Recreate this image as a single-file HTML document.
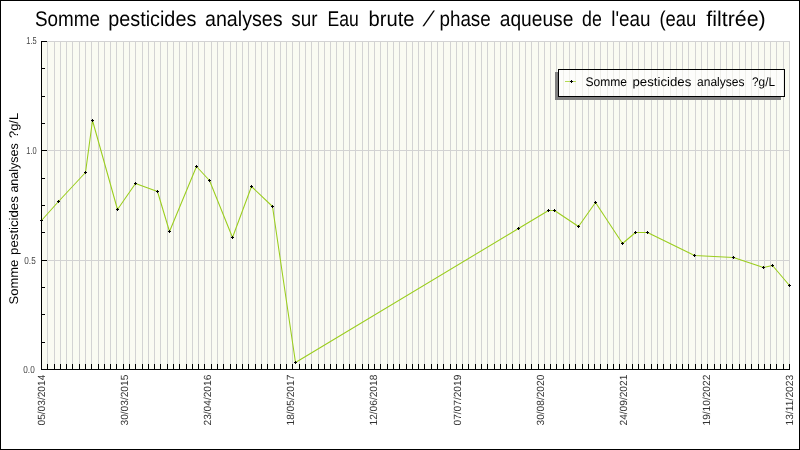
<!DOCTYPE html>
<html lang="fr"><head><meta charset="utf-8"><title>Somme pesticides analyses</title>
<style>html,body{margin:0;padding:0;background:#fff;overflow:hidden}svg{display:block}text{font-family:"Liberation Sans","DejaVu Sans",sans-serif;text-rendering:geometricPrecision}</style></head><body>
<svg width="800" height="450" viewBox="0 0 800 450">
<rect x="0" y="0" width="800" height="450" fill="#fff"/>
<g shape-rendering="crispEdges">
<rect x="0.5" y="0.5" width="799" height="449" fill="none" stroke="#000" stroke-width="1"/>
<rect x="41" y="41" width="749" height="329" fill="#fafbf2"/>
<path d="M47.5 41V370M54.5 41V370M60.5 41V370M66.5 41V370M72.5 41V370M79.5 41V370M85.5 41V370M91.5 41V370M98.5 41V370M104.5 41V370M110.5 41V370M116.5 41V370M123.5 41V370M129.5 41V370M135.5 41V370M142.5 41V370M148.5 41V370M154.5 41V370M160.5 41V370M167.5 41V370M173.5 41V370M179.5 41V370M186.5 41V370M192.5 41V370M198.5 41V370M204.5 41V370M211.5 41V370M217.5 41V370M223.5 41V370M230.5 41V370M236.5 41V370M242.5 41V370M248.5 41V370M255.5 41V370M261.5 41V370M267.5 41V370M274.5 41V370M280.5 41V370M286.5 41V370M292.5 41V370M299.5 41V370M305.5 41V370M311.5 41V370M318.5 41V370M324.5 41V370M330.5 41V370M336.5 41V370M343.5 41V370M349.5 41V370M355.5 41V370M362.5 41V370M368.5 41V370M374.5 41V370M380.5 41V370M387.5 41V370M393.5 41V370M399.5 41V370M406.5 41V370M412.5 41V370M418.5 41V370M424.5 41V370M431.5 41V370M437.5 41V370M443.5 41V370M450.5 41V370M456.5 41V370M462.5 41V370M468.5 41V370M475.5 41V370M481.5 41V370M487.5 41V370M494.5 41V370M500.5 41V370M506.5 41V370M512.5 41V370M519.5 41V370M525.5 41V370M531.5 41V370M538.5 41V370M544.5 41V370M550.5 41V370M556.5 41V370M563.5 41V370M569.5 41V370M575.5 41V370M582.5 41V370M588.5 41V370M594.5 41V370M600.5 41V370M607.5 41V370M613.5 41V370M619.5 41V370M626.5 41V370M632.5 41V370M638.5 41V370M644.5 41V370M651.5 41V370M657.5 41V370M663.5 41V370M670.5 41V370M676.5 41V370M682.5 41V370M688.5 41V370M695.5 41V370M701.5 41V370M707.5 41V370M714.5 41V370M720.5 41V370M726.5 41V370M732.5 41V370M739.5 41V370M745.5 41V370M751.5 41V370M758.5 41V370M764.5 41V370M770.5 41V370M776.5 41V370M783.5 41V370M789.5 41V370" stroke="#d3d3d3" stroke-width="1" fill="none"/>
<path d="M41 41.5H790M41 150.5H790M41 260.5H790" stroke="#d3d3d3" stroke-width="1" fill="none"/>
<path d="M41.5 41V370M41 369.5H790" stroke="#000" stroke-width="1" fill="none"/>
<path d="M41 41.5H47M41 150.5H47M41 260.5H47M41 369.5H47M41 68.5H45M41 96.5H45M41 123.5H45M41 178.5H45M41 205.5H45M41 232.5H45M41 287.5H45M41 314.5H45M41 342.5H45" stroke="#000" stroke-width="1" fill="none"/>
<path d="M41.5 364V370M47.5 364V370M54.5 364V370M60.5 364V370M66.5 364V370M72.5 364V370M79.5 364V370M85.5 364V370M91.5 364V370M98.5 364V370M104.5 364V370M110.5 364V370M116.5 364V370M123.5 364V370M129.5 364V370M135.5 364V370M142.5 364V370M148.5 364V370M154.5 364V370M160.5 364V370M167.5 364V370M173.5 364V370M179.5 364V370M186.5 364V370M192.5 364V370M198.5 364V370M204.5 364V370M211.5 364V370M217.5 364V370M223.5 364V370M230.5 364V370M236.5 364V370M242.5 364V370M248.5 364V370M255.5 364V370M261.5 364V370M267.5 364V370M274.5 364V370M280.5 364V370M286.5 364V370M292.5 364V370M299.5 364V370M305.5 364V370M311.5 364V370M318.5 364V370M324.5 364V370M330.5 364V370M336.5 364V370M343.5 364V370M349.5 364V370M355.5 364V370M362.5 364V370M368.5 364V370M374.5 364V370M380.5 364V370M387.5 364V370M393.5 364V370M399.5 364V370M406.5 364V370M412.5 364V370M418.5 364V370M424.5 364V370M431.5 364V370M437.5 364V370M443.5 364V370M450.5 364V370M456.5 364V370M462.5 364V370M468.5 364V370M475.5 364V370M481.5 364V370M487.5 364V370M494.5 364V370M500.5 364V370M506.5 364V370M512.5 364V370M519.5 364V370M525.5 364V370M531.5 364V370M538.5 364V370M544.5 364V370M550.5 364V370M556.5 364V370M563.5 364V370M569.5 364V370M575.5 364V370M582.5 364V370M588.5 364V370M594.5 364V370M600.5 364V370M607.5 364V370M613.5 364V370M619.5 364V370M626.5 364V370M632.5 364V370M638.5 364V370M644.5 364V370M651.5 364V370M657.5 364V370M663.5 364V370M670.5 364V370M676.5 364V370M682.5 364V370M688.5 364V370M695.5 364V370M701.5 364V370M707.5 364V370M714.5 364V370M720.5 364V370M726.5 364V370M732.5 364V370M739.5 364V370M745.5 364V370M751.5 364V370M758.5 364V370M764.5 364V370M770.5 364V370M776.5 364V370M783.5 364V370M789.5 364V370" stroke="#000" stroke-width="1" fill="none"/>
</g>
<path d="M41.5 220.5 L58.5 201.5 L85.5 172.5 L92.5 120.5 L117.5 209.5 L135.5 183.5 L157.5 191.5 L169.5 231.5 L196.5 166.5 L209.5 180.5 L232.5 237.5 L251.5 186.5 L272.5 206.5 L295.5 362.5 L518.5 228.5 L548.5 210.5 L554.5 210.5 L578.5 226.5 L595.5 202.5 L622.5 243.5 L635.5 232.5 L647.5 232.5 L694.5 255.5 L733.5 257.5 L763.5 267.5 L772.5 265.5 L789.5 285.5" stroke="#9acd1c" stroke-width="1.05" fill="none" stroke-linejoin="round"/>
<path d="M40 220.5H43M41.5 219V222M57 201.5H60M58.5 200V203M84 172.5H87M85.5 171V174M91 120.5H94M92.5 119V122M116 209.5H119M117.5 208V211M134 183.5H137M135.5 182V185M156 191.5H159M157.5 190V193M168 231.5H171M169.5 230V233M195 166.5H198M196.5 165V168M208 180.5H211M209.5 179V182M231 237.5H234M232.5 236V239M250 186.5H253M251.5 185V188M271 206.5H274M272.5 205V208M294 362.5H297M295.5 361V364M517 228.5H520M518.5 227V230M547 210.5H550M548.5 209V212M553 210.5H556M554.5 209V212M577 226.5H580M578.5 225V228M594 202.5H597M595.5 201V204M621 243.5H624M622.5 242V245M634 232.5H637M635.5 231V234M646 232.5H649M647.5 231V234M693 255.5H696M694.5 254V257M732 257.5H735M733.5 256V259M762 267.5H765M763.5 266V269M771 265.5H774M772.5 264V267M788 285.5H791M789.5 284V287" stroke="#000" stroke-width="1" fill="none" shape-rendering="crispEdges"/>
<g shape-rendering="crispEdges">
<rect x="555" y="72" width="226" height="28" fill="#808080"/>
<rect x="558" y="69" width="227" height="28" fill="#000"/>
<rect x="559" y="70" width="225" height="26" fill="#fdfdfb"/>
<path d="M563.5 70V96M569.5 70V96M575.5 70V96M582.5 70V96M588.5 70V96M594.5 70V96M600.5 70V96M607.5 70V96M613.5 70V96M619.5 70V96M626.5 70V96M632.5 70V96M638.5 70V96M644.5 70V96M651.5 70V96M657.5 70V96M663.5 70V96M670.5 70V96M676.5 70V96M682.5 70V96M688.5 70V96M695.5 70V96M701.5 70V96M707.5 70V96M714.5 70V96M720.5 70V96M726.5 70V96M732.5 70V96M739.5 70V96M745.5 70V96M751.5 70V96M758.5 70V96M764.5 70V96M770.5 70V96M776.5 70V96M783.5 70V96" stroke="#eeeeea" stroke-width="1" fill="none"/>
</g>
<path d="M565 81.5H576" stroke="#b4da55" stroke-width="1" shape-rendering="crispEdges"/>
<path d="M570 81.5H573M571.5 80V83" stroke="#000" stroke-width="1" shape-rendering="crispEdges"/>
<g opacity="0.999">
<text x="585.50" y="86.2" font-size="12.5" fill="#000" textLength="41.51" lengthAdjust="spacingAndGlyphs">Somme</text>
<text x="632.50" y="86.2" font-size="12.5" fill="#000" textLength="58.77" lengthAdjust="spacingAndGlyphs">pesticides</text>
<text x="697.00" y="86.2" font-size="12.5" fill="#000" textLength="47.52" lengthAdjust="spacingAndGlyphs">analyses</text>
<text x="752.00" y="86.2" font-size="12.5" fill="#000" textLength="23.02" lengthAdjust="spacingAndGlyphs">?g/L</text>
<text x="35.00" y="26" font-size="21.3" fill="#000" textLength="65.01" lengthAdjust="spacingAndGlyphs">Somme</text>
<text x="108.25" y="26" font-size="21.3" fill="#000" textLength="88.04" lengthAdjust="spacingAndGlyphs">pesticides</text>
<text x="205.00" y="26" font-size="21.3" fill="#000" textLength="77.54" lengthAdjust="spacingAndGlyphs">analyses</text>
<text x="291.25" y="26" font-size="21.3" fill="#000" textLength="26.24" lengthAdjust="spacingAndGlyphs">sur</text>
<text x="327.50" y="26" font-size="21.3" fill="#000" textLength="31.24" lengthAdjust="spacingAndGlyphs">Eau</text>
<text x="368.50" y="26" font-size="21.3" fill="#000" textLength="45.99" lengthAdjust="spacingAndGlyphs">brute</text>
<text transform="translate(422.6 26) skewX(-23)" font-size="21.3" fill="#000">/</text>
<text x="439.50" y="26" font-size="21.3" fill="#000" textLength="51.24" lengthAdjust="spacingAndGlyphs">phase</text>
<text x="499.75" y="26" font-size="21.3" fill="#000" textLength="73.54" lengthAdjust="spacingAndGlyphs">aqueuse</text>
<text x="582.00" y="26" font-size="21.3" fill="#000" textLength="19.79" lengthAdjust="spacingAndGlyphs">de</text>
<text x="611.25" y="26" font-size="21.3" fill="#000" textLength="39.28" lengthAdjust="spacingAndGlyphs">l'eau</text>
<text x="659.50" y="26" font-size="21.3" fill="#000" textLength="36.78" lengthAdjust="spacingAndGlyphs">(eau</text>
<text x="706.25" y="26" font-size="21.3" fill="#000" textLength="59.47" lengthAdjust="spacingAndGlyphs">filtrée)</text>
<g transform="translate(17.5 304.5) rotate(-90)">
<text x="0.00" y="0" font-size="12.5" fill="#000" textLength="44.81" lengthAdjust="spacingAndGlyphs">Somme</text>
<text x="49.60" y="0" font-size="12.5" fill="#000" textLength="58.72" lengthAdjust="spacingAndGlyphs">pesticides</text>
<text x="111.90" y="0" font-size="12.5" fill="#000" textLength="49.42" lengthAdjust="spacingAndGlyphs">analyses</text>
<text x="166.50" y="0" font-size="12.5" fill="#000" textLength="25.12" lengthAdjust="spacingAndGlyphs">?g/L</text>
</g>
<text x="26.30" y="44" font-size="10.2" fill="#444" textLength="10.40" lengthAdjust="spacingAndGlyphs">1.5</text>
<text x="26.30" y="154" font-size="10.2" fill="#444" textLength="10.40" lengthAdjust="spacingAndGlyphs">1.0</text>
<text x="24.30" y="264" font-size="10.2" fill="#444" textLength="11.40" lengthAdjust="spacingAndGlyphs">0.5</text>
<text x="23.30" y="373" font-size="10.2" fill="#444" textLength="11.40" lengthAdjust="spacingAndGlyphs">0.0</text>
<text transform="translate(45.3 425.5) rotate(-90)" x="0.00" font-size="10.4" fill="#333" textLength="50.80" lengthAdjust="spacingAndGlyphs">05/03/2014</text>
<text transform="translate(128.3 425.5) rotate(-90)" x="0.00" font-size="10.4" fill="#333" textLength="50.80" lengthAdjust="spacingAndGlyphs">30/03/2015</text>
<text transform="translate(211.3 425.5) rotate(-90)" x="0.00" font-size="10.4" fill="#333" textLength="50.80" lengthAdjust="spacingAndGlyphs">23/04/2016</text>
<text transform="translate(294.3 425.5) rotate(-90)" x="0.00" font-size="10.4" fill="#333" textLength="50.80" lengthAdjust="spacingAndGlyphs">18/05/2017</text>
<text transform="translate(377.3 425.5) rotate(-90)" x="0.00" font-size="10.4" fill="#333" textLength="50.80" lengthAdjust="spacingAndGlyphs">12/06/2018</text>
<text transform="translate(461.3 425.5) rotate(-90)" x="0.00" font-size="10.4" fill="#333" textLength="50.80" lengthAdjust="spacingAndGlyphs">07/07/2019</text>
<text transform="translate(544.3 425.5) rotate(-90)" x="0.00" font-size="10.4" fill="#333" textLength="50.80" lengthAdjust="spacingAndGlyphs">30/08/2020</text>
<text transform="translate(627.3 425.5) rotate(-90)" x="0.00" font-size="10.4" fill="#333" textLength="50.80" lengthAdjust="spacingAndGlyphs">24/09/2021</text>
<text transform="translate(710.3 425.5) rotate(-90)" x="0.00" font-size="10.4" fill="#333" textLength="50.80" lengthAdjust="spacingAndGlyphs">19/10/2022</text>
<text transform="translate(793.3 425.5) rotate(-90)" x="0.00" font-size="10.4" fill="#333" textLength="50.81" lengthAdjust="spacingAndGlyphs">13/11/2023</text>
</g>
</svg></body></html>
